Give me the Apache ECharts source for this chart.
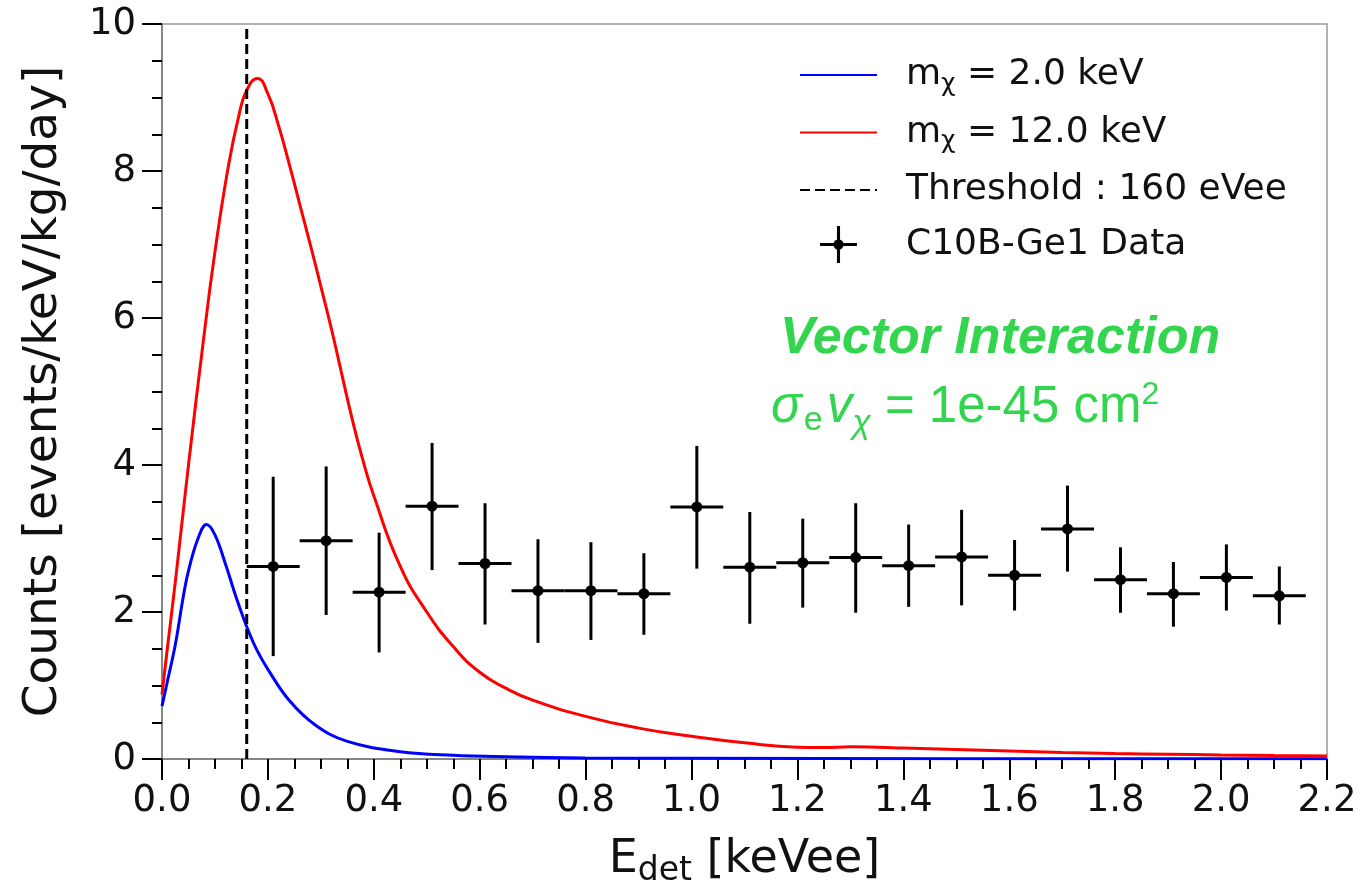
<!DOCTYPE html>
<html>
<head>
<meta charset="utf-8">
<script src="https://cdn.jsdelivr.net/npm/echarts@6/dist/echarts.min.js"></script>
<style>
  html, body { margin: 0; padding: 0; background: #fff; }
  #chart { width: 1360px; height: 893px; }
</style>
</head>
<body>
<div id="chart"></div>
<script>
// curve for m_chi = 2.0 keV  [E_det, counts]
const blueX = [0, 0.01, 0.025, 0.04, 0.05, 0.068, 0.084, 0.1, 0.12, 0.14, 0.16, 0.18, 0.2, 0.24, 0.29, 0.35, 0.45, 0.55, 0.65, 0.8, 1.0, 1.5, 2.2];
const blueY = [0.72, 1.05, 1.55, 2.2, 2.56, 3.0, 3.19, 3.05, 2.65, 2.2, 1.8, 1.47, 1.22, 0.8, 0.46, 0.24, 0.1, 0.05, 0.03, 0.015, 0.01, 0.005, 0.002];
// curve for m_chi = 12.0 keV
const redX = [0, 0.01, 0.025, 0.05, 0.08, 0.1, 0.125, 0.145, 0.16, 0.18, 0.2, 0.22, 0.24, 0.26, 0.28, 0.3, 0.32, 0.34, 0.36, 0.38, 0.4, 0.45, 0.5, 0.55, 0.6, 0.65, 0.7, 0.8, 0.9, 1.0, 1.1, 1.2, 1.25, 1.3, 1.35, 1.4, 1.5, 1.6, 1.7, 1.8, 1.9, 2.0, 2.1, 2.2];
const redY = [0.88, 1.5, 2.4, 4.0, 5.8, 6.9, 8.05, 8.75, 9.1, 9.26, 9.05, 8.62, 8.1, 7.55, 7.0, 6.43, 5.85, 5.22, 4.6, 4.05, 3.58, 2.62, 2.0, 1.53, 1.18, 0.96, 0.8, 0.58, 0.42, 0.31, 0.22, 0.16, 0.155, 0.165, 0.16, 0.15, 0.13, 0.11, 0.09, 0.075, 0.065, 0.055, 0.047, 0.04];

// C10B-Ge1 data
const binCenters = [0.21, 0.31, 0.41, 0.51, 0.61, 0.71, 0.81, 0.91, 1.01, 1.11, 1.21, 1.31, 1.41, 1.51, 1.61, 1.71, 1.81, 1.91, 2.01, 2.11];
const binHalf = 0.05;
const counts = [2.62, 2.97, 2.27, 3.44, 2.66, 2.29, 2.29, 2.25, 3.43, 2.61, 2.67, 2.74, 2.63, 2.75, 2.50, 3.13, 2.44, 2.25, 2.47, 2.22];
const countsHi = [3.84, 3.98, 3.08, 4.30, 3.48, 2.99, 2.95, 2.80, 4.26, 3.36, 3.27, 3.48, 3.19, 3.39, 2.98, 3.72, 2.88, 2.68, 2.92, 2.62];
const countsLo = [1.40, 1.96, 1.45, 2.57, 1.83, 1.58, 1.62, 1.69, 2.59, 1.84, 2.06, 1.99, 2.07, 2.09, 2.02, 2.55, 1.99, 1.80, 2.02, 1.83];

const threshold = 0.16;
const xTicks = ['0.0', '0.2', '0.4', '0.6', '0.8', '1.0', '1.2', '1.4', '1.6', '1.8', '2.0', '2.2'];

const FONT = 'DejaVu Sans';
const GREEN = '#33d54f';

const chart = echarts.init(document.getElementById('chart'));

function renderErrorBar(params, api) {
  const x = api.value(0);
  const c = api.coord([x, api.value(1)]);
  const l = api.coord([x - binHalf, api.value(1)]);
  const r = api.coord([x + binHalf, api.value(1)]);
  const b = api.coord([x, api.value(2)]);
  const t = api.coord([x, api.value(3)]);
  const style = { stroke: '#000', lineWidth: 3 };
  return {
    type: 'group',
    children: [
      { type: 'line', shape: { x1: l[0], y1: l[1], x2: r[0], y2: r[1] }, style },
      { type: 'line', shape: { x1: b[0], y1: b[1], x2: t[0], y2: t[1] }, style },
      { type: 'circle', shape: { cx: c[0], cy: c[1], r: 5.5 }, style: { fill: '#000' } },
    ],
  };
}

const legendRich = {
  t: { fontFamily: FONT, fontSize: 36, color: '#111', lineHeight: 42 },
  s: { fontFamily: FONT, fontSize: 25, color: '#111', padding: [18, 0, 0, 0] },
};

const option = {
  animation: false,
  backgroundColor: '#fff',
  grid: {
    left: 162, right: 33, top: 24, bottom: 131,
    show: true, borderColor: '#999', borderWidth: 1.5,
  },
  legend: {
    orient: 'vertical',
    left: 799,
    top: 57,
    padding: 0,
    itemWidth: 77,
    itemHeight: 37,
    itemGap: 18,
    textStyle: { padding: [0, 0, 0, 24], rich: legendRich },
    formatter(name) {
      if (name === 'm2') return '{t|m}{s|χ}{t| = 2.0 keV}';
      if (name === 'm12') return '{t|m}{s|χ}{t| = 12.0 keV}';
      return '{t|' + name + '}';
    },
    data: [
      { name: 'm2', itemStyle: { opacity: 0 } },
      { name: 'm12', itemStyle: { opacity: 0 } },
      { name: 'Threshold : 160 eVee', itemStyle: { opacity: 0 } },
      {
        name: 'C10B-Ge1 Data',
        icon: 'path://M0,16.5h36v3h-36z M16.5,0h3v36h-3z M18,13a5,5 0 1 1 0,10a5,5 0 1 1 0,-10z',
        symbolKeepAspect: true,
        itemStyle: { color: '#000' },
      },
    ],
  },
  xAxis: {
    type: 'value',
    min: 0, max: 2.2, interval: 0.2,
    name: '{a|E}{s|det}{a| [keVee]}',
    nameLocation: 'middle',
    nameGap: 74,
    nameTextStyle: {
      rich: {
        a: { fontFamily: FONT, fontSize: 46, color: '#111' },
        s: { fontFamily: FONT, fontSize: 33, color: '#111', padding: [22, 0, 0, 0] },
      },
    },
    axisLine: { lineStyle: { color: '#777', width: 1.5 } },
    axisTick: { length: 21, lineStyle: { color: '#000', width: 2 } },
    minorTick: { show: true, splitNumber: 4, length: 10, lineStyle: { color: '#000', width: 2 } },
    axisLabel: {
      margin: 24, fontFamily: FONT, fontSize: 37, color: '#111',
      formatter: (v) => xTicks[Math.round(v / 0.2)],
    },
    splitLine: { show: false },
  },
  yAxis: {
    type: 'value',
    min: 0, max: 10, interval: 2,
    name: 'Counts [events/keV/kg/day]',
    nameLocation: 'middle',
    nameGap: 95,
    nameTextStyle: { fontFamily: FONT, fontSize: 47, color: '#111' },
    axisLine: { show: true, lineStyle: { color: '#777', width: 1.5 } },
    axisTick: { show: true, length: 20, lineStyle: { color: '#000', width: 2 } },
    minorTick: { show: true, splitNumber: 4, length: 10, lineStyle: { color: '#000', width: 2 } },
    axisLabel: { margin: 26, fontFamily: FONT, fontSize: 37, color: '#111' },
    splitLine: { show: false },
  },
  series: [
    {
      name: 'm2',
      type: 'line',
      data: blueX.map((x, i) => [x, blueY[i]]),
      smooth: 0.4,
      symbol: 'none',
      lineStyle: { color: '#0000ff', width: 3 },
      itemStyle: { color: '#0000ff' },
      z: 3,
    },
    {
      name: 'm12',
      type: 'line',
      data: redX.map((x, i) => [x, redY[i]]),
      smooth: 0.5,
      symbol: 'none',
      lineStyle: { color: '#ff0000', width: 3 },
      itemStyle: { color: '#ff0000' },
      z: 3,
    },
    {
      name: 'Threshold : 160 eVee',
      type: 'line',
      data: [[threshold, 0], [threshold, 10]],
      symbol: 'none',
      lineStyle: { color: '#000', width: 3, type: [10, 5] },
      itemStyle: { color: '#000' },
      z: 4,
    },
    {
      name: 'C10B-Ge1 Data',
      type: 'custom',
      renderItem: renderErrorBar,
      data: binCenters.map((x, i) => [x, counts[i], countsLo[i], countsHi[i]]),
      itemStyle: { color: '#000' },
      z: 5,
    },
  ],
  graphic: [
    {
      type: 'text',
      left: 780,
      top: 313,
      style: {
        text: 'Vector Interaction',
        fontFamily: 'Liberation Sans',
        fontSize: 52,
        fontWeight: 'bold',
        fontStyle: 'italic',
        fill: GREEN,
      },
    },
    {
      type: 'text',
      left: 771,
      top: 379,
      style: {
        text: '{i|σ}{sub|e}{i|v}{isub|χ}{n| = 1e-45 cm}{sup|2}',
        rich: {
          i: { fontFamily: 'Liberation Sans', fontSize: 51, fontStyle: 'italic', fill: GREEN },
          n: { fontFamily: 'Liberation Sans', fontSize: 51, fill: GREEN },
          sub: { fontFamily: 'Liberation Sans', fontSize: 34, fill: GREEN, padding: [26, 4, 0, 2] },
          isub: { fontFamily: 'Liberation Sans', fontSize: 34, fontStyle: 'italic', fill: GREEN, padding: [32, 0, 0, 0] },
          sup: { fontFamily: 'Liberation Sans', fontSize: 32, fill: GREEN, padding: [0, 0, 26, 0] },
        },
      },
    },
  ],
};

chart.setOption(option);
</script>
</body>
</html>
